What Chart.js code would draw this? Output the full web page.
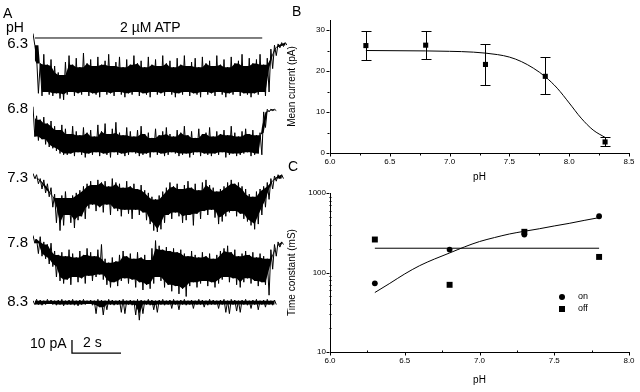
<!DOCTYPE html>
<html>
<head>
<meta charset="utf-8">
<title>ATP-gated current vs pH</title>
<script src="https://cdn.jsdelivr.net/npm/chart.js@4.4.1/dist/chart.umd.min.js"></script>
<style>
  body { margin: 0; width: 640px; height: 392px; position: relative; overflow: hidden; background: #fff;
         font-family: "Liberation Sans", Arial, sans-serif; color: #000; }
  canvas { position: absolute; }
  .t { position: absolute; white-space: nowrap; line-height: 1; }
</style>
</head>
<body>
<canvas id="traces" width="300" height="392" style="left:0;top:0"></canvas>
<canvas id="chartB" width="354" height="190" style="left:286px;top:0"></canvas>
<canvas id="chartC" width="354" height="222" style="left:286px;top:170px"></canvas>

<!-- panel A labels -->
<div class="t" style="left:3px;top:6px;font-size:14px">A</div>
<div class="t" style="left:6px;top:20px;font-size:14px">pH</div>
<div class="t" style="left:120px;top:20px;width:60px;text-align:center;font-size:14px">2 µM ATP</div>
<div class="t" style="left:0;top:35px;width:28px;text-align:right;font-size:15px">6.3</div>
<div class="t" style="left:0;top:100px;width:28px;text-align:right;font-size:15px">6.8</div>
<div class="t" style="left:0;top:169px;width:28px;text-align:right;font-size:15px">7.3</div>
<div class="t" style="left:0;top:234px;width:28px;text-align:right;font-size:15px">7.8</div>
<div class="t" style="left:0;top:293px;width:28px;text-align:right;font-size:15px">8.3</div>
<div class="t" style="left:30px;top:336px;font-size:14px">10 pA</div>
<div class="t" style="left:83px;top:335px;font-size:14px">2 s</div>

<!-- panel letters B / C -->
<div class="t" style="left:292px;top:4px;font-size:14px">B</div>
<div class="t" style="left:288px;top:159px;font-size:14px">C</div>

<!-- legend of C -->
<div class="t" style="left:559px;top:294px;width:6px;height:6px;border-radius:50%;background:#000"></div>
<div class="t" style="left:559px;top:306px;width:6px;height:6px;background:#000"></div>
<div class="t" style="left:578px;top:292px;font-size:9px">on</div>
<div class="t" style="left:578px;top:304px;font-size:9px">off</div>

<script>
// ---- panel A: current traces, upper / lower envelope read per sample (pA)
const SAMPLE_DT = 0.147; // s between samples
const tracePH = ['6.3', '6.8', '7.3', '7.8', '8.3'];

const top63 = [5, -13, -18, -11, -19, -15, -20, -25, -27, -17,
  -12, -19, -14, -21, -10, -18, -15, -20, -13, -19,
  -16, -11, -20, -17, -13, -21, -15, -19, -12, -18,
  -16, -21, -13, -19, -15, -20, -12, -18, -16, -21,
  -14, -19, -12, -20, -17, -14, -21, -13, -18, -16,
  -20, -12, -19, -15, -21, -13, -18, -16, -11, -20,
  -14, -18, -15, -11, -19, -14, -7, -4, -3, -2, -2];
const bot63 = [-4, -41, -43, -40, -42, -43, -41, -45, -46, -42,
  -40, -43, -41, -42, -40, -43, -41, -42, -44, -40,
  -42, -41, -43, -40, -42, -44, -41, -42, -40, -43,
  -41, -42, -44, -40, -42, -41, -43, -40, -42, -44,
  -41, -42, -40, -43, -41, -42, -44, -40, -42, -41,
  -43, -40, -42, -44, -41, -42, -40, -43, -41, -42,
  -44, -41, -42, -40, -43, -40, -22, -12, -6, -5, -4];

const top68 = [1, -6, -9, -7, -12, -10, -14, -17, -13, -16,
  -20, -14, -18, -21, -15, -19, -17, -22, -13, -18,
  -12, -20, -16, -11, -19, -21, -15, -18, -22, -17,
  -14, -20, -19, -23, -16, -21, -18, -15, -20, -22,
  -17, -19, -14, -21, -18, -23, -16, -20, -19, -15,
  -22, -18, -20, -17, -21, -14, -19, -22, -18, -16,
  -20, -17, -21, -19, -3, -1, -1, -1, null, null, null];
const bot68 = [-22, -25, -24, -28, -30, -31, -33, -35, -36, -36,
  -35, -37, -34, -36, -38, -35, -36, -34, -37, -35,
  -36, -38, -34, -36, -35, -37, -36, -34, -35, -37,
  -36, -35, -38, -34, -36, -35, -37, -36, -34, -35,
  -37, -36, -35, -38, -36, -34, -37, -35, -36, -37,
  -35, -36, -34, -38, -36, -35, -37, -36, -35, -34,
  -37, -36, -35, -36, -15, -3, -2, -2, null, null, null];

const top73 = [2, 1, -2, -3, -6, -9, -14, -17, -15, -12,
  -17, -15, -13, -11, -8, -6, -4, -7, -3, -5,
  -4, -8, -2, -5, -6, -9, -4, -8, -6, -10,
  -7, -11, -13, -16, -18, -15, -12, -9, -5, -8,
  -6, -10, -7, -4, -9, -6, -11, -5, -3, -7,
  -9, -12, -10, -8, -5, -3, -6, -5, -8, -10,
  -14, -16, -12, -10, -8, -5, -2, 0, 1, 1, null];
const bot73 = [-2, -6, -10, -13, -16, -24, -36, -42, -38, -30,
  -36, -40, -34, -31, -33, -25, -22, -27, -24, -28,
  -22, -30, -25, -27, -31, -26, -29, -33, -26, -30,
  -28, -34, -37, -42, -43, -41, -36, -30, -33, -28,
  -31, -36, -34, -30, -38, -29, -33, -27, -30, -26,
  -32, -37, -35, -31, -28, -27, -31, -29, -33, -35,
  -38, -41, -37, -30, -24, -18, -10, -4, -2, -2, null];

const top78 = [2, -1, 1, -3, -5, -4, -10, -13, -11, -14,
  -9, -12, -15, -10, -13, -8, -11, -14, -9, -5,
  -16, -19, -15, -18, -13, -10, -14, -12, -16, -11,
  -15, -13, -17, -8, -2, -6, -9, -7, -10, -8,
  -11, -9, -12, -14, -10, -13, -15, -11, -14, -12,
  -16, -13, -10, -8, -6, -11, -9, -14, -12, -10,
  -13, -11, -15, -12, -14, -16, -9, -5, -3, -3, null];
const bot78 = [-4, -12, -14, -16, -20, -22, -30, -33, -35, -32,
  -36, -30, -34, -31, -35, -29, -33, -30, -28, -32,
  -36, -38, -34, -37, -33, -31, -35, -32, -38, -34,
  -40, -36, -39, -35, -30, -33, -38, -36, -41, -37,
  -43, -39, -45, -37, -34, -38, -35, -33, -37, -34,
  -38, -35, -32, -30, -34, -31, -36, -38, -34, -31,
  -35, -33, -37, -34, -36, -44, -24, -14, -7, -5, null];

const top83 = [1, 2, 1.5, 1, 2, 1.5, 1, 1.5, 2, 1,
  1.5, 2, 1, 1.5, 2, 1, 1.5, 1, 2, 1.5,
  1, 2, 1.5, 1, 1.5, 2, 1, 1.5, 1, 2,
  1.5, 1, 2, 1.5, 1, 1.5, 2, 1, 1.5, 2,
  1, 1.5, 2, 1, 1.5, 1, 2, 1.5, 1, 2,
  1.5, 1, 1.5, 2, 1, 2, 1.5, 1, 1.5, 2,
  1, 1.5, 2, 1, 1.5, 2, 1, 1.5, null, null, null];
const bot83 = [-2, -2, -2.5, -2, -1.5, -2, -2.5, -2, -3, -2,
  -2, -2.5, -3, -2, -2, -1.5, -2.5, -9, -4, -10,
  -6, -2, -2.5, -2, -8, -9, -2, -2.5, -10, -14,
  -9, -2, -2.5, -6, -8, -2, -2.5, -2, -5, -2,
  -6, -2, -2.5, -2, -5, -2, -2, -4, -2.5, -2,
  -2, -5, -2, -8, -9, -2, -7, -8, -2, -2.5,
  -5, -2, -6, -2, -4, -2, -2.5, -2, null, null, null];

const atpBar = [0.08, 9.35];      // s, 2 µM ATP application
const scaleBarPA = 10, scaleBarS = 2;

// ---- panel B: mean current vs pH
const phB = [6.3, 6.8, 7.3, 7.8, 8.3];
const meanCurrent = [26.2, 26.3, 21.6, 18.7, 2.7];
const errHi = [29.8, 29.7, 26.6, 23.3, 4.0];
const errLo = [22.6, 22.9, 16.6, 14.3, 1.6];
const fitPhB = [6.3, 6.8, 7.0, 7.2, 7.4, 7.5, 7.6, 7.7, 7.8, 7.9, 8.0, 8.1, 8.2, 8.3];
const fitCurrent = [25.0, 24.9, 24.8, 24.6, 24.0, 23.4, 22.3, 20.7, 18.6, 15.8, 12.2, 8.5, 5.6, 3.8];
const phTicksB = [6.0, 6.5, 7.0, 7.5, 8.0, 8.5];
const phMinorB = [6.25, 6.75, 7.25, 7.75, 8.25];
const curTicks = [0, 10, 20, 30];
const curMinor = [5, 15, 25];

// ---- panel C: time constants vs pH
const phC = [6.3, 6.8, 7.3, 7.8];
const tauOn = [73, 194, 300, 510];
const tauOff = [260, 70, 325, 157];
const fitPhC = [6.3, 6.4, 6.5, 6.6, 6.7, 6.8, 6.9, 7.0, 7.1, 7.2, 7.3, 7.4, 7.5, 7.6, 7.7, 7.8];
const fitOn = [56, 73, 96, 122, 148, 176, 210, 245, 275, 305, 330, 355, 385, 415, 452, 490];
const offLinePh = [6.3, 7.8];
const offLine = [202, 202];
const phTicksC = [6.0, 6.5, 7.0, 7.5, 8.0];
const phMinorC = [6.25, 6.75, 7.25, 7.75];
const tauTicks = [10, 100, 1000];
const tauMinor = [20, 30, 40, 50, 60, 70, 80, 90, 200, 300, 400, 500, 600, 700, 800, 900];

// layout of panel A (pA offsets of each trace baseline)
const traceBase = [-7.7, -60, -112.3, -160, -209.2];
const ATP_Y = -6.15;
const SB_T = 1.59, SB_Y = -248.5;

const BLACK = '#000';
const FONT = '"Liberation Sans", Arial, sans-serif';
const tickFont = { family: FONT, size: 8 };
const titleFont = { family: FONT, size: 10 };

function toPoints(vals, base, shift) {
  const pts = [];
  vals.forEach((v, i) => {
    if (v !== null) pts.push({ x: (i + shift) * SAMPLE_DT, y: base + v });
  });
  return pts;
}

// solid core of the noisy band: the inner-most of each sample and its neighbours
function core(vals, pick) {
  return vals.map((v, i) => {
    if (v === null) return null;
    const win = [vals[i - 1], v, vals[i + 1]].filter(u => u !== null && u !== undefined);
    return pick(...win);
  });
}

// the raw trace: alternating upper / lower readings
function zigzag(top, bot, base) {
  const pts = [];
  top.forEach((v, i) => {
    if (v === null) return;
    pts.push({ x: i * SAMPLE_DT, y: base + v });
    pts.push({ x: (i + 0.5) * SAMPLE_DT, y: base + bot[i] });
  });
  return pts;
}

const traceSets = [[top63, bot63], [top68, bot68], [top73, bot73], [top78, bot78], [top83, bot83]];
const traceDatasets = [];
traceSets.forEach(([t, b], k) => {
  traceDatasets.push({
    label: 'core ' + tracePH[k],
    data: toPoints(core(t, Math.min), traceBase[k], 0),
    borderWidth: 0, pointRadius: 0, fill: false, tension: 0
  });
  traceDatasets.push({
    label: 'core ' + tracePH[k] + ' low',
    data: toPoints(core(b, Math.max), traceBase[k], 0.5),
    borderWidth: 0, pointRadius: 0, tension: 0,
    fill: '-1', backgroundColor: BLACK
  });
  traceDatasets.push({
    label: 'pH ' + tracePH[k],
    data: zigzag(t, b, traceBase[k]),
    borderColor: BLACK, borderWidth: 1, pointRadius: 0, fill: false,
    borderJoinStyle: 'bevel', tension: 0
  });
});

new Chart(document.getElementById('traces'), {
  type: 'line',
  data: {
    datasets: [
      ...traceDatasets,
      {
        label: 'ATP',
        data: [{ x: atpBar[0], y: ATP_Y }, { x: atpBar[1], y: ATP_Y }],
        borderColor: BLACK, borderWidth: 1, pointRadius: 0, fill: false
      },
      {
        label: 'scale',
        data: [{ x: SB_T, y: SB_Y + scaleBarPA }, { x: SB_T, y: SB_Y }, { x: SB_T + scaleBarS, y: SB_Y }],
        borderColor: BLACK, borderWidth: 1.3, pointRadius: 0, fill: false
      }
    ]
  },
  options: {
    responsive: false, animation: false, events: [],
    layout: { padding: { left: 33, right: 13, top: 30, bottom: 32 } },
    plugins: { legend: { display: false }, tooltip: { enabled: false } },
    scales: {
      x: { type: 'linear', display: false, min: 0, max: 10.36 },
      y: { type: 'linear', display: false, min: -253.85, max: 0 }
    }
  }
});

// tick marks (major + minor) drawn off the axis line
const tickMarks = {
  id: 'tickMarks',
  afterDraw(chart, args, opts) {
    const ctx = chart.ctx;
    ctx.save();
    ctx.strokeStyle = BLACK;
    ctx.lineWidth = 1;
    opts.marks.forEach(m => {
      const s = chart.scales[m.axis];
      m.values.forEach(v => {
        const p = Math.round(s.getPixelForValue(v)) + 0.5;
        ctx.beginPath();
        if (s.isHorizontal()) {
          const y0 = Math.round(s.top) + 0.5;
          ctx.moveTo(p, y0); ctx.lineTo(p, y0 + m.len);
        } else {
          const x0 = Math.round(s.right) - 0.5;
          ctx.moveTo(x0, p); ctx.lineTo(x0 - m.len, p);
        }
        ctx.stroke();
      });
    });
    ctx.restore();
  }
};

const errorBars = {
  id: 'errorBars',
  afterDatasetsDraw(chart, args, opts) {
    const meta = chart.getDatasetMeta(opts.dataset);
    const ys = chart.scales.y, ctx = chart.ctx;
    ctx.save();
    ctx.strokeStyle = BLACK;
    ctx.lineWidth = 1;
    meta.data.forEach((pt, i) => {
      const x = Math.round(pt.x) + 0.5;
      const yHi = Math.round(ys.getPixelForValue(opts.hi[i])) + 0.5;
      const yLo = Math.round(ys.getPixelForValue(opts.lo[i])) + 0.5;
      ctx.beginPath();
      ctx.moveTo(x, yHi); ctx.lineTo(x, yLo);
      ctx.moveTo(x - opts.cap, yHi); ctx.lineTo(x + opts.cap, yHi);
      ctx.moveTo(x - opts.cap, yLo); ctx.lineTo(x + opts.cap, yLo);
      ctx.stroke();
    });
    ctx.restore();
  }
};

function axis(extra) {
  return Object.assign({
    grid: { display: false, drawTicks: false },
    border: { display: true, color: BLACK, width: 1 }
  }, extra);
}

new Chart(document.getElementById('chartB'), {
  type: 'line',
  data: {
    datasets: [
      {
        data: fitPhB.map((x, i) => ({ x, y: fitCurrent[i] })),
        borderColor: BLACK, borderWidth: 1, pointRadius: 0, cubicInterpolationMode: 'monotone'
      },
      {
        data: phB.map((x, i) => ({ x, y: meanCurrent[i] })),
        showLine: false, pointStyle: 'rect', pointRadius: 3.6,
        backgroundColor: BLACK, borderColor: BLACK, borderWidth: 0
      }
    ]
  },
  options: {
    responsive: false, animation: false, events: [],
    layout: { padding: { left: 0, right: 11, top: 20, bottom: 0 } },
    plugins: {
      legend: { display: false }, tooltip: { enabled: false },
      errorBars: { dataset: 1, lo: errLo, hi: errHi, cap: 5 },
      tickMarks: { marks: [
        { axis: 'x', values: phTicksB, len: 3 }, { axis: 'x', values: phMinorB, len: 2 },
        { axis: 'y', values: curTicks, len: 3 }, { axis: 'y', values: curMinor, len: 2 }
      ] }
    },
    scales: {
      x: axis({
        type: 'linear', min: 6.0, max: 8.5,
        afterBuildTicks: s => { s.ticks = phTicksB.map(v => ({ value: v })); },
        afterFit: s => { s.height = 37; },
        ticks: { font: tickFont, color: BLACK, padding: 4, maxRotation: 0, autoSkip: false, callback: v => v.toFixed(1) },
        title: { display: true, text: 'pH', font: titleFont, color: BLACK, padding: { top: 0, bottom: 7 } }
      }),
      y: axis({
        type: 'linear', min: 0, max: 32.44,
        afterBuildTicks: s => { s.ticks = curTicks.map(v => ({ value: v })); },
        afterFit: s => { s.width = 44; },
        ticks: { font: tickFont, color: BLACK, padding: 5, autoSkip: false, callback: v => String(v) },
        title: { display: true, text: 'Mean current (pA)', font: titleFont, color: BLACK, padding: { top: 0, bottom: 0 } }
      })
    }
  },
  plugins: [errorBars, tickMarks]
});

new Chart(document.getElementById('chartC'), {
  type: 'line',
  data: {
    datasets: [
      {
        label: 'on fit',
        data: fitPhC.map((x, i) => ({ x, y: fitOn[i] })),
        borderColor: BLACK, borderWidth: 1, pointRadius: 0, cubicInterpolationMode: 'monotone'
      },
      {
        label: 'off fit',
        data: offLinePh.map((x, i) => ({ x, y: offLine[i] })),
        borderColor: BLACK, borderWidth: 1, pointRadius: 0
      },
      {
        label: 'on',
        data: phC.map((x, i) => ({ x, y: tauOn[i] })),
        showLine: false, pointStyle: 'circle', pointRadius: 2.9,
        backgroundColor: BLACK, borderColor: BLACK, borderWidth: 0
      },
      {
        label: 'off',
        data: phC.map((x, i) => ({ x, y: tauOff[i] })),
        showLine: false, pointStyle: 'rect', pointRadius: 4.2,
        backgroundColor: BLACK, borderColor: BLACK, borderWidth: 0
      }
    ]
  },
  options: {
    responsive: false, animation: false, events: [],
    layout: { padding: { left: 0, right: 11, top: 23, bottom: 0 } },
    plugins: {
      legend: { display: false }, tooltip: { enabled: false },
      tickMarks: { marks: [
        { axis: 'x', values: phTicksC, len: 3 }, { axis: 'x', values: phMinorC, len: -2 },
        { axis: 'y', values: tauTicks, len: 3 }, { axis: 'y', values: tauMinor, len: -2 }
      ] }
    },
    scales: {
      x: axis({
        type: 'linear', min: 6.0, max: 8.0,
        afterBuildTicks: s => { s.ticks = phTicksC.map(v => ({ value: v })); },
        afterFit: s => { s.height = 40; },
        ticks: { font: tickFont, color: BLACK, padding: 4, maxRotation: 0, autoSkip: false, callback: v => v.toFixed(1) },
        title: { display: true, text: 'pH', font: titleFont, color: BLACK, padding: { top: 0, bottom: 6 } }
      }),
      y: axis({
        type: 'logarithmic', min: 10, max: 1000,
        afterBuildTicks: s => { s.ticks = tauTicks.map(v => ({ value: v })); },
        afterFit: s => { s.width = 44; },
        ticks: { font: tickFont, color: BLACK, padding: 4, autoSkip: false, callback: v => String(v) },
        title: { display: true, text: 'Time constant (mS)', font: titleFont, color: BLACK, padding: { top: 0, bottom: 0 } }
      })
    }
  },
  plugins: [tickMarks]
});
</script>
</body>
</html>
